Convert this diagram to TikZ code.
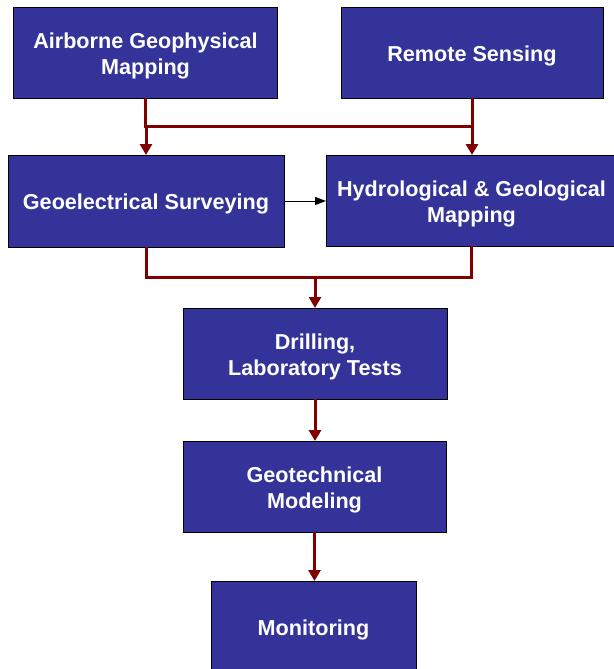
\documentclass[tikz,border=0pt]{standalone}
\usepackage{fontspec}
\setmainfont{Liberation Sans}
\usetikzlibrary{arrows.meta}
\definecolor{boxblue}{HTML}{333399}
\definecolor{linered}{HTML}{800000}
\begin{document}
\begin{tikzpicture}[x=1pt,y=-1pt,
  procbox/.style={draw=black, line width=1pt, fill=boxblue,
    inner sep=0pt, outer sep=0pt,
    label={[boxtext]center:{#1}}},
  boxtext/.style={text=white, font=\fontsize{21.6}{26}\selectfont\bfseries,
    align=center, inner sep=0pt, yshift=-3pt},
  redline/.style={draw=linered, line width=3pt},
  redarrow/.style={draw=linered, line width=3pt, -{Triangle[length=11pt,width=12pt]}},
  blackarrow/.style={draw=black, line width=1pt, -{Triangle[length=11pt,width=8pt]}}]
\useasboundingbox (0,0) rectangle (613,669);
\fill[white] (0,0) rectangle (613,669);
\node[procbox={Airborne Geophysical\\Mapping}, minimum width=264pt, minimum height=90pt] (A) at (145.5,53) {};
\node[procbox={Remote Sensing}, minimum width=262pt, minimum height=90pt] (RS) at (472,53) {};
\node[procbox={Geoelectrical Surveying}, minimum width=276pt, minimum height=92pt] (GE) at (146,201) {};
\node[procbox={Hydrological \& Geological\\Mapping}, minimum width=291pt, minimum height=91pt] (HY) at (471.5,200.5) {};
\node[procbox={Drilling,\\Laboratory Tests}, minimum width=264pt, minimum height=91pt] (DR) at (315,353.5) {};
\node[procbox={Geotechnical\\Modeling}, minimum width=263pt, minimum height=91pt] (GT) at (314.5,486.5) {};
\node[procbox={Monitoring}, minimum width=205pt, minimum height=91pt] (MO) at (313.5,626.5) {};
\coordinate (j1) at (0,126);
\coordinate (j2) at (0,277);
% top junction
\draw[redline] (A.south) -- (A.south |- j1) -- (RS.south |- j1);
\draw[redline] (RS.south) -- (RS.south |- j1);
\draw[redarrow] (GE.north |- j1) -- (GE.north);
\draw[redarrow] (RS.south |- j1) -- (HY.north -| RS.south);
% side arrow
\draw[blackarrow] (GE.east) -- (GE.east -| HY.west);
% lower junction
\draw[redline] (GE.south) -- (GE.south |- j2) -- (HY.south |- j2) -- (HY.south);
\draw[redarrow] (DR.north |- j2) -- (DR.north);
\draw[redarrow] (DR.south) -- (GT.north -| DR.south);
\draw[redarrow] (GT.south) -- (MO.north -| GT.south);
\end{tikzpicture}
\end{document}
